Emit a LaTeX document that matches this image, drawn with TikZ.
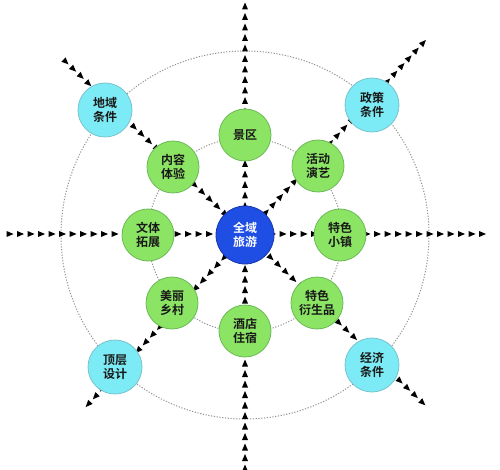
\documentclass[tikz,border=0pt]{standalone}
\usepackage{fontspec}
\newfontfamily\cjk{Noto Sans CJK SC}[BoldFont={Noto Sans CJK SC Bold}]
\usetikzlibrary{decorations.markings}
\definecolor{gfill}{RGB}{140,228,100}
\definecolor{gline}{RGB}{105,185,85}
\definecolor{cfill}{RGB}{125,235,245}
\definecolor{cline}{RGB}{120,195,205}
\definecolor{bfill}{RGB}{30,78,228}
\definecolor{bline}{RGB}{25,55,170}
\begin{document}
\begin{tikzpicture}[x=1pt,y=-1pt,
  ring/.style={draw=gray!85, dash pattern=on 1.2pt off 1.6pt, line width=1pt},
  tri/.style={postaction={decorate}, decoration={markings,
     mark=between positions 0 and 1 step 10.5pt with {\fill[black] (-3.5pt,-3pt) -- (3.5pt,0pt) -- (-3.5pt,3pt) -- cycle;}}},
  lbl/.style={circle, inner sep=0pt, align=center, font=\cjk\bfseries\fontsize{12}{14}\selectfont},
  gnode/.style={lbl, fill=gfill, draw=gline, line width=0.8pt, minimum size=52pt, text=black!90},
  cnode/.style={lbl, fill=cfill, draw=cline, line width=0.8pt, minimum size=54pt, text=black!90},
  bnode/.style={lbl, fill=bfill, draw=bline, line width=0.8pt, minimum size=58pt, text=white}
]
\useasboundingbox (0,0) rectangle (500,470);
% coordinates
\coordinate (c) at (245,235);
\coordinate (top) at (245,4);
\coordinate (bot) at (245,468);
\coordinate (left) at (10,234);
\coordinate (right) at (490,234);
\coordinate (tl) at (66,62);
\coordinate (br) at (424,404);
\coordinate (tr) at (424,42);
\coordinate (bl) at (82,411);
% dotted rings
\draw[ring] (c) circle (184);
\draw[ring] (c) circle (97);
% arrow chains
\path[tri] (bot) -- (top);
\path[tri] (left) -- (right);
\path[tri] (tl) -- (br);
\path[tri] (c) -- (tr);
\path[tri] (c) -- (bl);
% nodes
\node[bnode] (quanyu) at (c) {全域\\旅游};
\node[gnode] (jingqu) at (245,135) {景区};
\node[gnode] (huodong) at (318,166) {活动\\演艺};
\node[gnode] (xiaozhen) at (340,235) {特色\\小镇};
\node[gnode] (yansheng) at (317,303) {特色\\衍生品};
\node[gnode] (jiudian) at (245,331) {酒店\\住宿};
\node[gnode] (xiangcun) at (172,303) {美丽\\乡村};
\node[gnode] (wenti) at (148,235) {文体\\拓展};
\node[gnode] (neirong) at (173,167) {内容\\体验};
\node[cnode] (diyu) at (105,110) {地域\\条件};
\node[cnode] (zhengce) at (372,105) {政策\\条件};
\node[cnode] (dingceng) at (115,367) {顶层\\设计};
\node[cnode] (jingji) at (372,365) {经济\\条件};
\end{tikzpicture}
\end{document}
